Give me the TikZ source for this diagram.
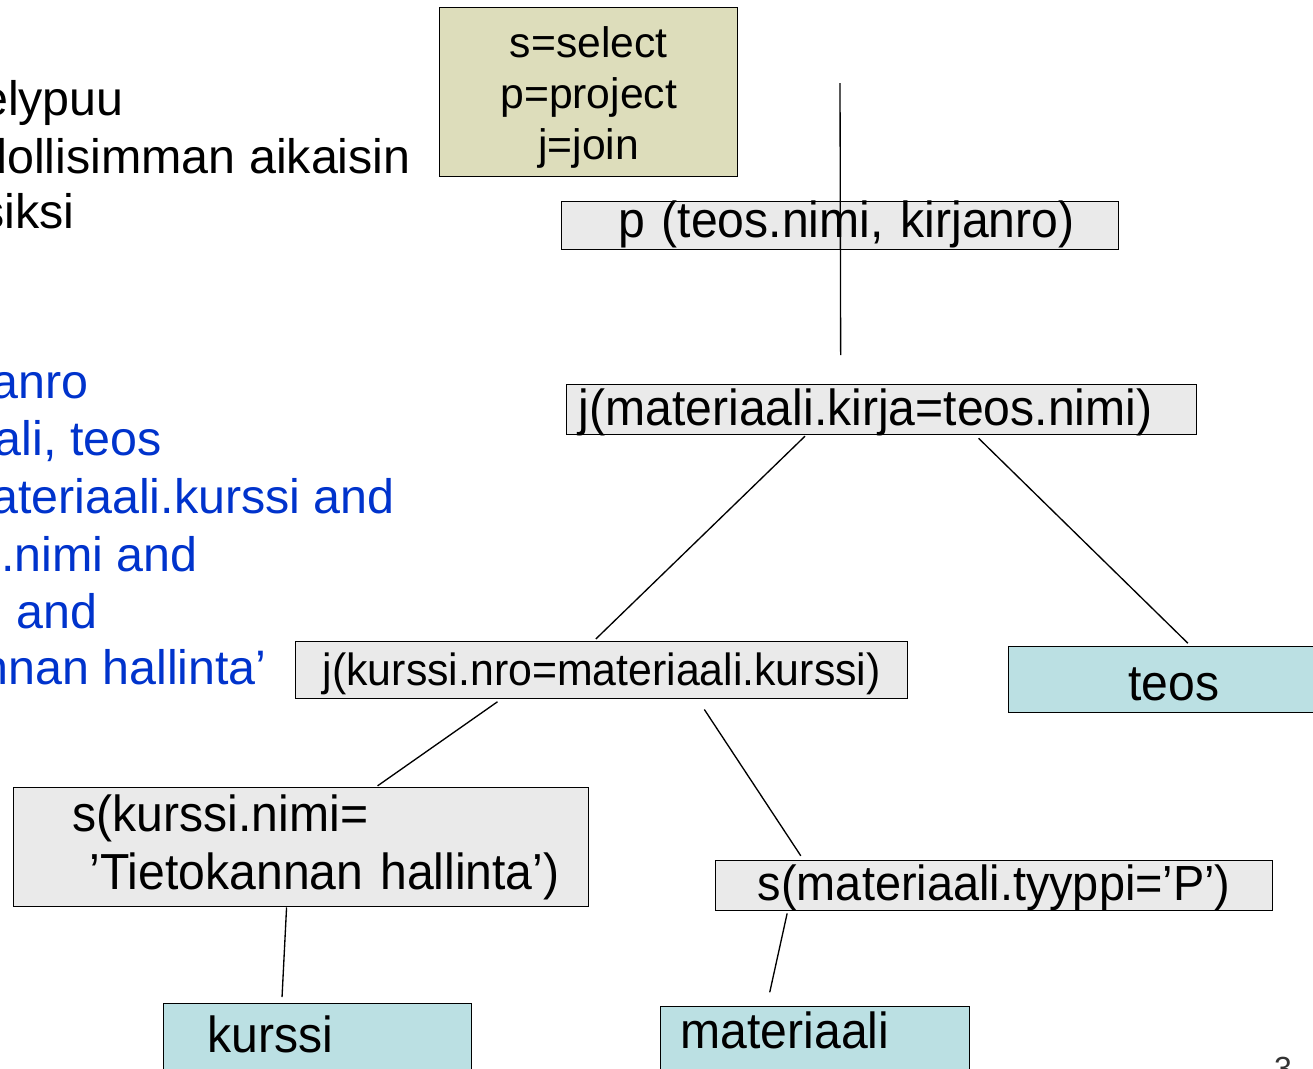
\documentclass[tikz,border=0pt]{standalone}
\usepackage{fontspec}
\setmainfont{Liberation Sans}
\newfontfamily\narrowfont[FakeStretch=0.95]{Liberation Sans}
\usepackage{xcolor}
\definecolor{opgray}{RGB}{234,234,234}
\definecolor{relteal}{RGB}{187,224,227}
\definecolor{legendtan}{RGB}{221,221,187}
\definecolor{slideblue}{RGB}{0,51,204}

\begin{document}
\begin{tikzpicture}[x=0.75pt,y=-0.75pt,
  opbox/.style={draw,line width=1.1pt,fill=opgray,anchor=north west,inner ysep=0pt,font=\narrowfont\fontsize{38}{43}\selectfont},
  relbox/.style={draw,line width=1.1pt,fill=relteal,anchor=north west,inner ysep=0pt,font=\narrowfont\fontsize{38}{43}\selectfont},
  branch/.style={line width=1pt},
  slidetext/.style={anchor=base east,inner sep=0pt,font=\fontsize{36.3}{43}\selectfont}]
  \useasboundingbox (0,0) rectangle (1313,1068);
  \node[slidetext] (t1) at (124,115) {elypuu};
  \node[slidetext] (t2) at (411,173) {dollisimman aikaisin};
  \node[slidetext] (t3) at (75,228) {siksi};
  \node[slidetext,text=slideblue] (q1) at (89,398) {anro};
  \node[slidetext,text=slideblue] (q2) at (162,455) {ali, teos};
  \node[slidetext,text=slideblue] (q3) at (395,513) {ateriaali.kurssi and};
  \node[slidetext,text=slideblue] (q4) at (198,571) {s.nimi and};
  \node[slidetext,text=slideblue] (q5) at (98,628) {’ and};
  \node[slidetext,text=slideblue] (q6) at (267,684) {nnan hallinta’};
  \node[draw,line width=1.1pt,fill=legendtan,anchor=north west,inner sep=0pt,text width=223.5pt,align=center,text height=37.5pt,text depth=89.25pt,font=\fontsize{32}{38.25}\selectfont] (legend) at (439,7) {s=select\\p=project\\j=join};
  \node[opbox,inner xsep=0pt,text width=417.75pt,align=center,text height=27pt,text depth=9pt] (pbox) at (561,201) {\hspace*{9pt}p (teos.nimi, kirjanro)};
  \node[opbox,inner xsep=9pt,text width=454.5pt,align=left,text height=30.75pt,text depth=6.75pt] (j1) at (566,384) {j(materiaali.kirja=teos.nimi)};
  \node[opbox,inner xsep=0pt,text width=459pt,align=center,text height=33pt,text depth=9.75pt,font=\narrowfont\fontsize{33.8}{40}\selectfont] (j2) at (295,641) {j(kurssi.nro=materiaali.kurssi)};
  \node[relbox,inner xsep=0pt,text width=247.5pt,align=center,text height=40.5pt,text depth=9pt] (teos) at (1008,646) {teos};
  \node[opbox,inner xsep=44.25pt,text width=342.75pt,align=left,text height=33pt,text depth=56.25pt] (s1) at (13,787) {s(kurssi.nimi=\\\mbox{\ ’Tietokannan hallinta’)}};
  \node[opbox,inner xsep=0pt,text width=417.75pt,align=center,text height=30pt,text depth=7.5pt,font=\narrowfont\fontsize{37}{43}\selectfont] (s2) at (715,860) {s(materiaali.tyyppi=’P’)};
  \node[relbox,inner xsep=33pt,text width=165pt,align=left,text height=36.75pt,text depth=45pt] (kurssi) at (163,1003) {kurssi};
  \node[relbox,inner xsep=15pt,text width=201.75pt,align=left,text height=31.5pt,text depth=45pt] (materiaali) at (660,1006) {materiaali};
  \node[anchor=base,inner sep=0pt,font=\fontsize{24}{28}\selectfont,text=black!80] (pagenum) at (1283,1079) {3};
  \coordinate (top) at (840,83);
  \draw[branch,shorten >=21.75pt] (top) -- ([xshift=-30.75pt]j1.north);
  \draw[branch,shorten <=0.75pt,shorten >=2.25pt] ([xshift=-57pt]j1.south) -- ([xshift=-6pt]j2.north);
  \draw[branch,shorten <=3pt,shorten >=3pt] ([xshift=70.5pt]j1.south) -- ([xshift=12.75pt]teos.north);
  \draw[branch,shorten <=3pt,shorten >=1.5pt] ([xshift=-75.75pt]j2.south) -- ([xshift=56pt]s1.north);
  \draw[branch,shorten <=9pt,shorten >=3.75pt] ([xshift=72pt]j2.south) -- ([xshift=-143pt]s2.north);
  \draw[branch,shorten >=4.5pt] ([xshift=-11pt]s1.south) -- ([xshift=-27pt]kurssi.north);
  \draw[branch,shorten <=1.5pt,shorten >=10.5pt] ([xshift=-155pt]s2.south) -- ([xshift=-36.4pt]materiaali.north);
\end{tikzpicture}
\end{document}
